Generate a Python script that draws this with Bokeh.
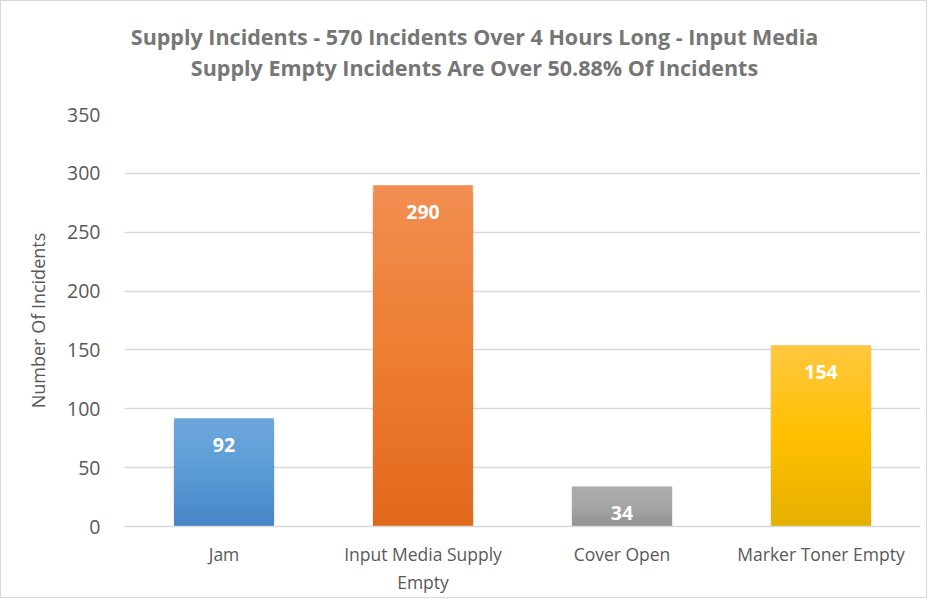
import numpy as np
from bokeh.plotting import figure
from bokeh.layouts import column
from bokeh.models import FactorRange, Range1d, ColumnDataSource, FixedTicker, LabelSet, Div
from bokeh.core.properties import value
from bokeh.embed import file_html
from bokeh.resources import INLINE

categories = ["Jam", "Input Media Supply\nEmpty", "Cover Open", "Marker Toner Empty"]
values = [92, 290, 34, 154]
top_colors = ["#6ea7dd", "#f28e52", "#adadad", "#ffc73f"]
mid_colors = ["#5b9bd5", "#ed7d31", "#a5a5a5", "#ffc000"]
bottom_colors = ["#4584c6", "#e2681b", "#939393", "#e5b000"]
y_ticks = [0, 50, 100, 150, 200, 250, 300, 350]

title_line1 = "Supply Incidents - 570 Incidents Over 4 Hours Long - Input Media"
title_line2 = "Supply Empty Incidents Are Over 50.88% Of Incidents"

FONT = "Open Sans"
W = 925
TITLE_H = 100

title_div = Div(
    text=('<div style="font-family:\'Open Sans\';font-weight:bold;font-size:21.5px;'
          'color:#767676;text-align:center;line-height:31px;padding-top:20px;'
          'padding-left:22px;width:925px;box-sizing:border-box;">'
          f'{title_line1}<br>{title_line2}</div>'),
    width=W, height=TITLE_H, margin=0)

p = figure(width=W, height=596 - TITLE_H, output_backend="svg", toolbar_location=None,
           x_range=FactorRange(factors=categories, range_padding=0),
           y_range=Range1d(0, 350),
           min_border_left=123, min_border_right=6, min_border_top=13, min_border_bottom=69)
p.title.visible = False

def hexrgb(h):
    h = h.lstrip("#")
    return np.array([int(h[i:i+2], 16) for i in (0, 2, 4)], dtype=float)

def mix(a, b, t):
    c = a + (b - a) * t
    return "#%02x%02x%02x" % tuple(int(round(v)) for v in c)

# gradient bars: nested bars drawn from tallest (top colour) to shortest (bottom colour)
N = 50
xs, tops, cols = [], [], []
for i in range(N, 0, -1):
    f = i / N
    fm = (i - 0.5) / N
    for cat, v, tc, mc, bc in zip(categories, values, top_colors, mid_colors, bottom_colors):
        t_, m_, b_ = hexrgb(tc), hexrgb(mc), hexrgb(bc)
        if fm < 0.5:
            col = mix(b_, m_, fm / 0.5)
        else:
            col = mix(m_, t_, (fm - 0.5) / 0.5)
        xs.append(cat)
        tops.append(v * f)
        cols.append(col)

# soft shadow
p.vbar(x=categories, top=values, width=0.515, bottom=-1.3, fill_color="#000000",
       fill_alpha=0.07, line_color=None)
p.vbar(x=xs, top=tops, bottom=0, width=0.5, fill_color=cols, line_color=None)

src = ColumnDataSource(dict(x=categories, y=values, t=[str(v) for v in values]))
labels = LabelSet(x="x", y="y", text="t", source=src, text_align="center",
                  text_baseline="middle", y_offset=-27, text_color="white",
                  text_font=value(FONT), text_font_style="bold", text_font_size="19.5px")
p.add_layout(labels)

p.yaxis.ticker = FixedTicker(ticks=y_ticks)
p.ygrid.ticker = FixedTicker(ticks=y_ticks)
p.ygrid.grid_line_color = "#d9d9d9"
p.ygrid.grid_line_width = 1.5
p.xgrid.grid_line_color = None
p.outline_line_color = None

p.yaxis.axis_line_color = None
p.yaxis.major_tick_line_color = None
p.yaxis.minor_tick_line_color = None
p.yaxis.major_label_text_font = FONT
p.yaxis.major_label_text_font_size = "19.5px"
p.yaxis.major_label_text_color = "#595959"
p.yaxis.major_label_standoff = 18
p.yaxis.axis_label = "Number Of Incidents"
p.yaxis.axis_label_text_font = FONT
p.yaxis.axis_label_text_font_style = "normal"
p.yaxis.axis_label_text_font_size = "18px"
p.yaxis.axis_label_text_color = "#595959"
p.yaxis.axis_label_standoff = 14

p.xaxis.axis_line_color = "#d9d9d9"
p.xaxis.axis_line_width = 1.5
p.xaxis.major_tick_line_color = None
p.xaxis.minor_tick_line_color = None
p.xaxis.major_label_text_font = FONT
p.xaxis.major_label_text_font_size = "17.5px"
p.xaxis.major_label_text_color = "#595959"
p.xaxis.major_label_standoff = 9

layout = column(title_div, p, spacing=0,
                styles={"border": "1px solid #d9d9d9", "background": "white"})

open("out.html", "w").write(file_html(layout, INLINE))
